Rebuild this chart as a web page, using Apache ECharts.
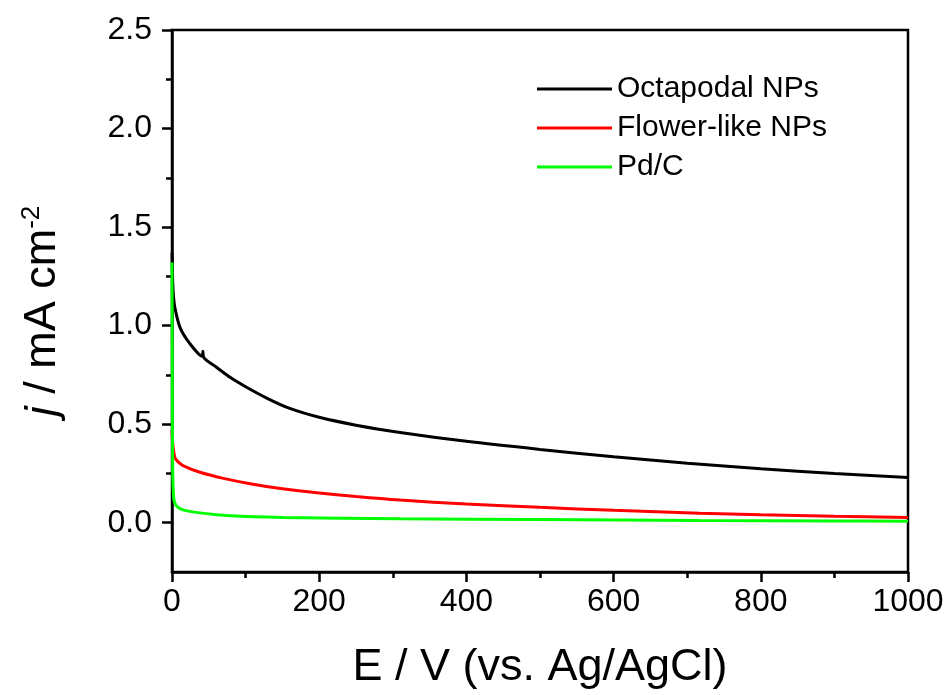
<!DOCTYPE html>
<html>
<head>
<meta charset="utf-8">
<script src="https://cdn.jsdelivr.net/npm/echarts@6/dist/echarts.min.js"></script>
<style>
  html, body { margin: 0; padding: 0; background: #fff; }
  #chart { width: 951px; height: 695px; }
</style>
</head>
<body>
<div id="chart"></div>
<script>
// values
const seriesNames = ['Octapodal NPs', 'Flower-like NPs', 'Pd/C'];
const seriesColors = ['#000000', '#ff0000', '#00ff00'];

const octapodalX = [0, 1, 2, 4, 11, 24, 41, 42, 43, 60, 80, 100, 130, 160, 200, 250, 310, 400, 500, 600, 700, 800, 900, 1000];
const octapodalY = [1.37, 1.22, 1.15, 1.09, 0.99, 0.91, 0.845, 0.87, 0.84, 0.79, 0.735, 0.69, 0.63, 0.58, 0.535, 0.495, 0.458, 0.413, 0.372, 0.335, 0.302, 0.274, 0.25, 0.23];

const flowerX = [0, 1, 2, 4, 8, 15, 38, 70, 106, 150, 197, 250, 310, 400, 500, 600, 717, 800, 900, 1000];
const flowerY = [0.47, 0.40, 0.37, 0.33, 0.31, 0.29, 0.256, 0.225, 0.198, 0.172, 0.152, 0.133, 0.115, 0.095, 0.078, 0.063, 0.048, 0.04, 0.033, 0.027];

const pdcX = [0, 0.5, 1, 2, 3, 6, 15, 38, 80, 151, 310, 500, 717, 900, 1000];
const pdcY = [1.32, 0.6, 0.25, 0.14, 0.11, 0.085, 0.065, 0.05, 0.035, 0.027, 0.02, 0.016, 0.011, 0.009, 0.007];

const yMajorTicks = [0, 0.5, 1.0, 1.5, 2.0, 2.5];
const yMinorTicks = [0.25, 0.75, 1.25, 1.75, 2.25];

const FONT = "'Liberation Sans', Arial, sans-serif";

function pairs(xs, ys) {
  return xs.map((x, i) => [x, ys[i]]);
}

const chart = echarts.init(document.getElementById('chart'));

const seriesData = [pairs(octapodalX, octapodalY), pairs(flowerX, flowerY), pairs(pdcX, pdcY)];

chart.setOption({
  animation: false,
  backgroundColor: '#fff',
  grid: {
    left: 172, right: 43, top: 30, bottom: 123,
    show: true, borderColor: '#000', borderWidth: 2.5, backgroundColor: 'transparent'
  },
  legend: {
    orient: 'vertical',
    left: 532, top: 69,
    icon: 'rect',
    itemWidth: 75, itemHeight: 3,
    itemGap: 9,
    textStyle: { fontFamily: FONT, fontSize: 30, color: '#000', lineHeight: 30 },
    data: seriesNames
  },
  xAxis: {
    type: 'value',
    min: 0, max: 1000, interval: 200,
    name: 'E / V (vs. Ag/AgCl)',
    nameLocation: 'middle',
    nameGap: 73,
    nameTextStyle: { fontFamily: FONT, fontSize: 45, color: '#000' },
    axisLine: { show: true, onZero: false, lineStyle: { color: '#000', width: 2.5 } },
    axisTick: { show: true, inside: false, length: 10, lineStyle: { color: '#000', width: 2.5 } },
    minorTick: { show: true, splitNumber: 2, length: 6, lineStyle: { color: '#000', width: 2.5 } },
    axisLabel: { fontFamily: FONT, fontSize: 32, color: '#000', margin: 14, formatter: v => String(v) },
    splitLine: { show: false }
  },
  yAxis: [
    {
      type: 'value',
      min: -0.25, max: 2.5,
      name: '{i|j} / mA cm{sup|-2}',
      nameLocation: 'middle',
      nameGap: 105,
      nameTextStyle: {
        fontFamily: FONT, fontSize: 45, color: '#000',
        padding: [0, 20, 0, 0],
        rich: {
          i: { fontFamily: FONT, fontSize: 45, fontStyle: 'italic', color: '#000' },
          sup: { fontFamily: FONT, fontSize: 26, color: '#000', verticalAlign: 'top', padding: [0, 0, 22, 0] }
        }
      },
      axisLine: { show: true, onZero: false, lineStyle: { color: '#000', width: 2.5 } },
      axisTick: { show: true, inside: false, length: 10, customValues: yMajorTicks, lineStyle: { color: '#000', width: 2.5 } },
      axisLabel: {
        fontFamily: FONT, fontSize: 32, color: '#000', margin: 20,
        customValues: yMajorTicks,
        formatter: v => v.toFixed(1)
      },
      splitLine: { show: false }
    },
    {
      type: 'value',
      min: -0.25, max: 2.5,
      position: 'left',
      axisLine: { show: false },
      axisTick: { show: true, inside: false, length: 6, customValues: yMinorTicks, lineStyle: { color: '#000', width: 2.5 } },
      axisLabel: { show: false },
      splitLine: { show: false }
    }
  ],
  series: seriesNames.map((name, i) => ({
    name,
    type: 'line',
    yAxisIndex: 0,
    data: seriesData[i],
    showSymbol: false,
    symbol: 'none',
    smooth: 0.3,
    lineStyle: { color: seriesColors[i], width: 3 },
    itemStyle: { color: seriesColors[i] }
  }))
});
</script>
</body>
</html>
